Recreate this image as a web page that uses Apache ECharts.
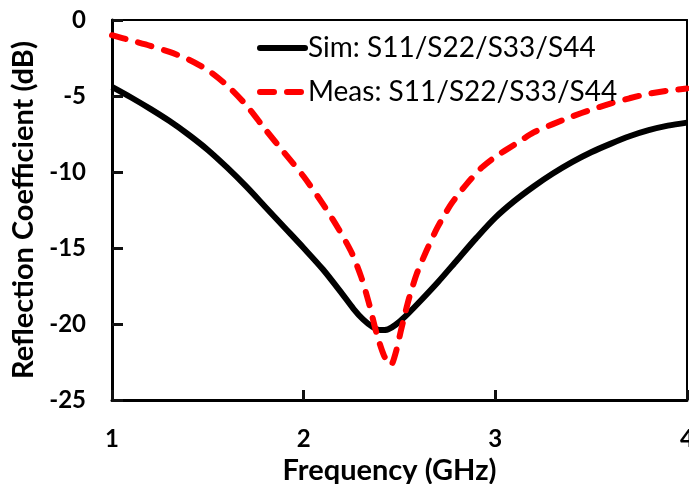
<!DOCTYPE html>
<html>
<head>
<meta charset="utf-8">
<script src="https://cdn.jsdelivr.net/npm/echarts@6/dist/echarts.min.js"></script>
<style>html,body{margin:0;padding:0;background:#fff}#c{width:689px;height:484px}</style>
</head>
<body>
<div id="c"></div>
<script>
const simFreq = [1.0, 1.1, 1.2, 1.3, 1.4, 1.5, 1.6, 1.7, 1.8, 1.9, 2.0, 2.1, 2.2, 2.26, 2.31, 2.36, 2.40, 2.44, 2.48, 2.53, 2.6, 2.7, 2.8, 2.9, 3.0, 3.1, 3.2, 3.3, 3.4, 3.5, 3.6, 3.7, 3.8, 3.9, 4.0];
const simVal  = [-4.4, -5.1, -5.85, -6.65, -7.55, -8.55, -9.7, -10.95, -12.3, -13.65, -15.0, -16.4, -18.0, -19.0, -19.7, -20.2, -20.4, -20.35, -20.05, -19.5, -18.6, -17.25, -15.8, -14.35, -13.0, -11.9, -10.95, -10.1, -9.35, -8.7, -8.15, -7.65, -7.25, -6.95, -6.75];
const measFreq = [1.0, 1.1, 1.2, 1.3, 1.4, 1.5, 1.6, 1.7, 1.8, 1.9, 2.0, 2.1, 2.18, 2.25, 2.30, 2.34, 2.38, 2.42, 2.455, 2.48, 2.51, 2.55, 2.59, 2.64, 2.70, 2.77, 2.85, 2.93, 3.0, 3.1, 3.2, 3.3, 3.4, 3.5, 3.6, 3.7, 3.8, 3.9, 4.0];
const measVal  = [-1.0, -1.35, -1.7, -2.1, -2.6, -3.3, -4.3, -5.6, -7.2, -8.75, -10.3, -12.1, -13.7, -15.3, -16.9, -18.6, -20.6, -22.1, -22.7, -21.9, -20.3, -18.3, -16.7, -15.2, -13.6, -12.1, -10.8, -9.7, -9.0, -8.2, -7.4, -6.85, -6.35, -5.9, -5.5, -5.15, -4.85, -4.65, -4.5];
const seriesNames = ['Sim: S11/S22/S33/S44', 'Meas: S11/S22/S33/S44'];
const xTicks = [1, 2, 3, 4];
const yTicks = [-25, -20, -15, -10, -5, 0];

const zip = (a, b) => a.map((v, i) => [v, b[i]]);
const font = 'Lato';
const xMin = xTicks[0], xMax = xTicks[xTicks.length-1];
const yMin = yTicks[0], yMax = yTicks[yTicks.length-1];
const tickColor = '#111111';
const chart = echarts.init(document.getElementById('c'), null, {renderer: 'canvas'});
chart.setOption({
  animation: false,
  backgroundColor: '#fff',
  grid: {left: 112, top: 20, right: 2, bottom: 84, outerBoundsMode: 'none', containLabel: false, show: false},
  legend: {
    orient: 'vertical', left: 252, top: 28, itemWidth: 45, itemHeight: 14, itemGap: 14,
    itemStyle: {opacity: 0},
    lineStyle: {width: 6, cap: 'round'},
    textStyle: {fontFamily: font, fontSize: 28, color: '#000', lineHeight: 30, padding: [0,0,0,-2]},
    data: seriesNames
  },
  xAxis: [{
    type: 'value', min: xMin, max: xMax, interval: 1, position: 'bottom',
    axisLine: {show: true, onZero: false, lineStyle: {color: '#000', width: 3}},
    axisTick: {show: true, inside: true, length: 10, lineStyle: {color: tickColor, width: 3}},
    splitLine: {show: false},
    axisLabel: {fontFamily: font, fontWeight: 'bold', fontSize: 24, color: '#000', margin: 27},
    name: 'Frequency (GHz)', nameLocation: 'middle', nameGap: 42,
    nameTextStyle: {fontFamily: font, fontWeight: 'bold', fontSize: 29, color: '#000', padding: [0, 20, 0, 0]}
  }, {
    type: 'value', min: xMin, max: xMax, interval: 1, position: 'top',
    axisLine: {show: true, onZero: false, lineStyle: {color: '#000', width: 2}},
    axisTick: {show: false}, axisLabel: {show: false}, splitLine: {show: false}
  }, {
    type: 'value', min: xMin, max: xMax, interval: 1, position: 'top', offset: -380,
    axisLine: {show: false, onZero: false},
    axisTick: {show: true, inside: false, length: 10, lineStyle: {color: tickColor, width: 3}},
    axisLabel: {show: false}, splitLine: {show: false}
  }],
  yAxis: [{
    type: 'value', min: yMin, max: yMax, interval: 5, position: 'left',
    axisLine: {show: true, onZero: false, lineStyle: {color: '#000', width: 3}},
    axisTick: {show: true, inside: true, length: 11, lineStyle: {color: tickColor, width: 3}},
    splitLine: {show: false},
    axisLabel: {fontFamily: font, fontWeight: 'bold', fontSize: 24, color: '#000', margin: 26},
    name: 'Reflection Coefficient (dB)', nameLocation: 'middle', nameGap: 53,
    nameTextStyle: {fontFamily: font, fontWeight: 'bold', fontSize: 29, color: '#000'}
  }, {
    type: 'value', min: yMin, max: yMax, interval: 5, position: 'right',
    axisLine: {show: true, onZero: false, lineStyle: {color: '#000', width: 2}},
    axisTick: {show: false}, axisLabel: {show: false}, splitLine: {show: false}
  }, {
    type: 'value', min: yMin, max: yMax, interval: 5, position: 'right', offset: -575,
    axisLine: {show: false, onZero: false},
    axisTick: {show: true, inside: false, length: 11, lineStyle: {color: tickColor, width: 3}},
    axisLabel: {show: false}, splitLine: {show: false}
  }],
  series: [
    {name: seriesNames[0], type: 'line', data: zip(simFreq, simVal), symbol: 'none', smooth: 0.3,
     lineStyle: {color: '#000', width: 6}, itemStyle: {color: '#000'}},
    {name: seriesNames[1], type: 'line', data: zip(measFreq, measVal), symbol: 'none', smooth: 0.25,
     lineStyle: {color: '#ff0000', width: 6, type: [14, 13], cap: 'round'}, itemStyle: {color: '#ff0000'}}
  ]
});
</script>
</body>
</html>
